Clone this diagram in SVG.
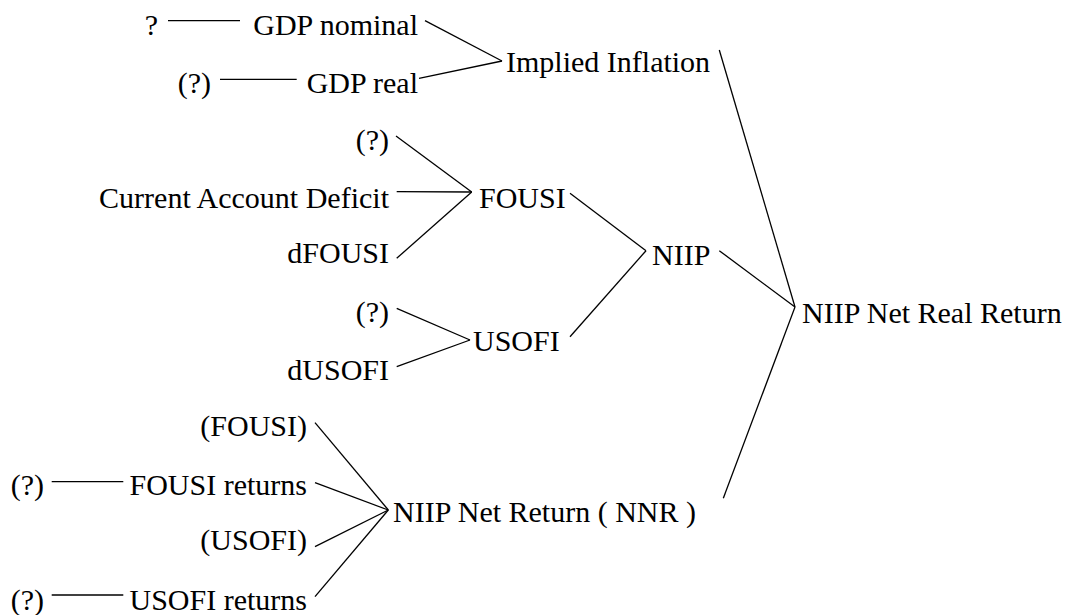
<svg xmlns="http://www.w3.org/2000/svg" width="1082" height="615" viewBox="0 0 1082 615">
<style>
text{font-family:"Liberation Serif","DejaVu Serif","Noto Serif",serif;font-size:30px;fill:#000}
.r{text-anchor:end}
.l{text-anchor:start}
line{stroke:#000;stroke-width:1.3;fill:none}
</style>
<rect width="1082" height="615" fill="#fff"/>
<g id="connectors">
<line x1="168" y1="20.7" x2="240" y2="20.7"/>
<line x1="425" y1="20.7" x2="502" y2="61"/>
<line x1="220" y1="79.3" x2="296.7" y2="79.3"/>
<line x1="419" y1="78.3" x2="502" y2="61"/>
<line x1="719.3" y1="50" x2="795" y2="307"/>
<line x1="396" y1="136" x2="471.7" y2="192"/>
<line x1="396.7" y1="191.7" x2="471.7" y2="192"/>
<line x1="396.7" y1="258.3" x2="471.7" y2="192"/>
<line x1="396.7" y1="308.3" x2="470" y2="340"/>
<line x1="396.7" y1="366.7" x2="470" y2="340"/>
<line x1="570" y1="193.3" x2="646" y2="250.7"/>
<line x1="570" y1="336.7" x2="646" y2="250.7"/>
<line x1="719.3" y1="250.7" x2="795" y2="307"/>
<line x1="723.3" y1="498.3" x2="795" y2="307"/>
<line x1="315" y1="422.7" x2="388.3" y2="510"/>
<line x1="51.7" y1="481.7" x2="123.3" y2="481.7"/>
<line x1="315" y1="482.7" x2="388.3" y2="510"/>
<line x1="315" y1="546.7" x2="388.3" y2="510"/>
<line x1="51.7" y1="595" x2="123.3" y2="595"/>
<line x1="315" y1="596.7" x2="388.3" y2="510"/>
</g>
<g id="n_q1"><text class="r" x="158" y="35">?</text></g>
<g id="n_gdpnom"><text class="r" x="418" y="35">GDP nominal</text></g>
<g id="n_q2"><text class="r" x="211" y="93">(?)</text></g>
<g id="n_gdpreal"><text class="r" x="418" y="93">GDP real</text></g>
<g id="n_infl"><text class="l" x="506" y="72">Implied Inflation</text></g>
<g id="n_q3"><text class="r" x="389" y="150">(?)</text></g>
<g id="n_cad"><text class="r" x="389" y="208">Current Account Deficit</text></g>
<g id="n_dfousi"><text class="r" x="389" y="263">dFOUSI</text></g>
<g id="n_fousi"><text class="l" x="479" y="208">FOUSI</text></g>
<g id="n_q4"><text class="r" x="389" y="322">(?)</text></g>
<g id="n_dusofi"><text class="r" x="389" y="380">dUSOFI</text></g>
<g id="n_usofi"><text class="l" x="473" y="351">USOFI</text></g>
<g id="n_niip"><text class="l" x="652" y="265">NIIP</text></g>
<g id="n_nnrr"><text class="l" x="802" y="322.7">NIIP Net Real Return</text></g>
<g id="n_pfousi"><text class="r" x="307" y="436">(FOUSI)</text></g>
<g id="n_q5"><text class="r" x="44" y="495">(?)</text></g>
<g id="n_fousiret"><text class="r" x="307" y="495">FOUSI returns</text></g>
<g id="n_pusofi"><text class="r" x="307" y="550">(USOFI)</text></g>
<g id="n_q6"><text class="r" x="44" y="610">(?)</text></g>
<g id="n_usofiret"><text class="r" x="307" y="610">USOFI returns</text></g>
<g id="n_nnr"><text class="l" x="393" y="521.7">NIIP Net Return ( NNR )</text></g>
</svg>
